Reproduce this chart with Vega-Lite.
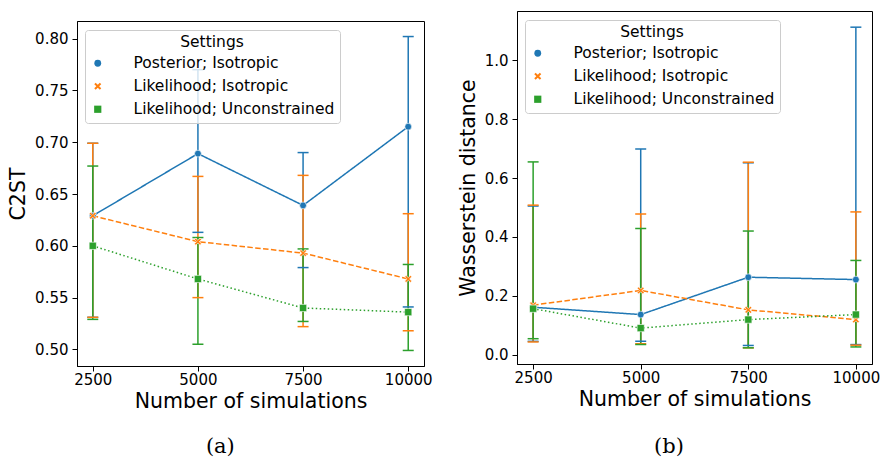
{
  "$schema": "https://vega.github.io/schema/vega-lite/v6.json",
  "background": "white",
  "padding": {"left": 8, "top": 10, "right": 5, "bottom": 0},
  "datasets": {
    "c2st": [
      {"n": 2500, "setting": "Posterior; Isotropic", "value": 0.629, "lo": 0.531, "hi": 0.699},
      {"n": 5000, "setting": "Posterior; Isotropic", "value": 0.689, "lo": 0.613, "hi": 0.770},
      {"n": 7500, "setting": "Posterior; Isotropic", "value": 0.639, "lo": 0.579, "hi": 0.690},
      {"n": 10000, "setting": "Posterior; Isotropic", "value": 0.715, "lo": 0.541, "hi": 0.802},
      {"n": 2500, "setting": "Likelihood; Isotropic", "value": 0.629, "lo": 0.531, "hi": 0.699},
      {"n": 5000, "setting": "Likelihood; Isotropic", "value": 0.604, "lo": 0.550, "hi": 0.667},
      {"n": 7500, "setting": "Likelihood; Isotropic", "value": 0.593, "lo": 0.522, "hi": 0.668},
      {"n": 10000, "setting": "Likelihood; Isotropic", "value": 0.568, "lo": 0.518, "hi": 0.631},
      {"n": 2500, "setting": "Likelihood; Unconstrained", "value": 0.600, "lo": 0.529, "hi": 0.677},
      {"n": 5000, "setting": "Likelihood; Unconstrained", "value": 0.568, "lo": 0.505, "hi": 0.608},
      {"n": 7500, "setting": "Likelihood; Unconstrained", "value": 0.540, "lo": 0.527, "hi": 0.597},
      {"n": 10000, "setting": "Likelihood; Unconstrained", "value": 0.536, "lo": 0.499, "hi": 0.582}
    ],
    "wass": [
      {"n": 2500, "setting": "Posterior; Isotropic", "value": 0.161, "lo": 0.045, "hi": 0.505},
      {"n": 5000, "setting": "Posterior; Isotropic", "value": 0.136, "lo": 0.045, "hi": 0.699},
      {"n": 7500, "setting": "Posterior; Isotropic", "value": 0.263, "lo": 0.031, "hi": 0.652},
      {"n": 10000, "setting": "Posterior; Isotropic", "value": 0.255, "lo": 0.034, "hi": 1.113},
      {"n": 2500, "setting": "Likelihood; Isotropic", "value": 0.168, "lo": 0.043, "hi": 0.508},
      {"n": 5000, "setting": "Likelihood; Isotropic", "value": 0.218, "lo": 0.037, "hi": 0.478},
      {"n": 7500, "setting": "Likelihood; Isotropic", "value": 0.152, "lo": 0.023, "hi": 0.654},
      {"n": 10000, "setting": "Likelihood; Isotropic", "value": 0.119, "lo": 0.032, "hi": 0.485},
      {"n": 2500, "setting": "Likelihood; Unconstrained", "value": 0.156, "lo": 0.054, "hi": 0.655},
      {"n": 5000, "setting": "Likelihood; Unconstrained", "value": 0.090, "lo": 0.034, "hi": 0.429},
      {"n": 7500, "setting": "Likelihood; Unconstrained", "value": 0.119, "lo": 0.023, "hi": 0.420},
      {"n": 10000, "setting": "Likelihood; Unconstrained", "value": 0.136, "lo": 0.026, "hi": 0.320}
    ]
  },
  "spacing": 24,
  "resolve": {
    "scale": {"color": "independent", "shape": "independent", "strokeDash": "independent", "size": "independent"},
    "legend": {"color": "independent"}
  },
  "hconcat": [
    {
      "spacing": 8,
      "resolve": {
        "scale": {"color": "independent", "shape": "independent", "strokeDash": "independent", "size": "independent"},
        "legend": {"color": "independent"}
      },
      "vconcat": [
        {"width": 347, "height": 1, "data": {"values": []}, "mark": {"type": "point"}, "view": {"stroke": null}},
        {
          "width": 347,
          "height": 345,
          "title": {"text": "(a)", "orient": "bottom", "frame": "bounds", "anchor": "middle", "font": "DejaVu Serif", "fontSize": 21, "fontWeight": "normal", "color": "black", "offset": 24},
          "data": {"name": "c2st"},
          "encoding": {
            "x": {"field": "n", "type": "quantitative", "scale": {"domain": [2125, 10375], "nice": false, "zero": false}, "axis": {"values": [2500, 5000, 7500, 10000], "format": "d", "title": "Number of simulations"}},
            "color": {
              "field": "setting", "type": "nominal",
              "scale": {"domain": ["Posterior; Isotropic", "Likelihood; Isotropic", "Likelihood; Unconstrained"], "range": ["#1f77b4", "#ff7f0e", "#2ca02c"]},
              "legend": {"title": "Settings", "orient": "none", "legendX": 8, "legendY": 9}
            }
          },
          "layer": [
            {"mark": {"type": "rule", "strokeWidth": 1.5}, "encoding": {"y": {"field": "lo", "type": "quantitative", "scale": {"domain": [0.484, 0.817], "nice": false, "zero": false}, "axis": {"values": [0.5, 0.55, 0.6, 0.65, 0.7, 0.75, 0.8], "format": ".2f", "title": "C2ST"}}, "y2": {"field": "hi"}}},
            {"mark": {"type": "tick", "orient": "horizontal", "size": 11, "thickness": 1.5, "opacity": 1}, "encoding": {"y": {"field": "lo", "type": "quantitative", "scale": {"domain": [0.484, 0.817], "nice": false, "zero": false}}}},
            {"mark": {"type": "tick", "orient": "horizontal", "size": 11, "thickness": 1.5, "opacity": 1}, "encoding": {"y": {"field": "hi", "type": "quantitative", "scale": {"domain": [0.484, 0.817], "nice": false, "zero": false}}}},
            {"mark": {"type": "line", "strokeWidth": 1.5}, "encoding": {"y": {"field": "value", "type": "quantitative", "scale": {"domain": [0.484, 0.817], "nice": false, "zero": false}}, "strokeDash": {"field": "setting", "type": "nominal", "scale": {"domain": ["Posterior; Isotropic", "Likelihood; Isotropic", "Likelihood; Unconstrained"], "range": [[1, 0], [5.5, 2.4], [1.5, 2.5]]}, "legend": null}}},
            {"mark": {"type": "point", "filled": true, "opacity": 1, "stroke": "white", "strokeWidth": 0.6}, "encoding": {"y": {"field": "value", "type": "quantitative", "scale": {"domain": [0.484, 0.817], "nice": false, "zero": false}}, "shape": {"field": "setting", "type": "nominal", "scale": {"domain": ["Posterior; Isotropic", "Likelihood; Isotropic", "Likelihood; Unconstrained"], "range": ["circle", "M-1,-0.6L-0.6,-1L0,-0.4L0.6,-1L1,-0.6L0.4,0L1,0.6L0.6,1L0,0.4L-0.6,1L-1,0.6L-0.4,0Z", "square"]}, "legend": null}, "size": {"field": "setting", "type": "nominal", "scale": {"domain": ["Posterior; Isotropic", "Likelihood; Isotropic", "Likelihood; Unconstrained"], "range": [46, 52, 28]}, "legend": null}}}
          ]
        }
      ]
    },
    {
      "width": 355,
      "height": 353,
      "title": {"text": "(b)", "orient": "bottom", "frame": "bounds", "anchor": "middle", "font": "DejaVu Serif", "fontSize": 21, "fontWeight": "normal", "color": "black", "offset": 26},
      "data": {"name": "wass"},
      "encoding": {
        "x": {"field": "n", "type": "quantitative", "scale": {"domain": [2125, 10375], "nice": false, "zero": false}, "axis": {"values": [2500, 5000, 7500, 10000], "format": "d", "title": "Number of simulations"}},
        "color": {
          "field": "setting", "type": "nominal",
          "scale": {"domain": ["Posterior; Isotropic", "Likelihood; Isotropic", "Likelihood; Unconstrained"], "range": ["#1f77b4", "#ff7f0e", "#2ca02c"]},
          "legend": {"title": "Settings", "orient": "none", "legendX": 8, "legendY": 9}
        }
      },
      "layer": [
        {"mark": {"type": "rule", "strokeWidth": 1.5}, "encoding": {"y": {"field": "lo", "type": "quantitative", "scale": {"domain": [-0.032, 1.168], "nice": false, "zero": false}, "axis": {"values": [0, 0.2, 0.4, 0.6, 0.8, 1.0], "format": ".1f", "title": "Wasserstein distance"}}, "y2": {"field": "hi"}}},
        {"mark": {"type": "tick", "orient": "horizontal", "size": 11, "thickness": 1.5, "opacity": 1}, "encoding": {"y": {"field": "lo", "type": "quantitative", "scale": {"domain": [-0.032, 1.168], "nice": false, "zero": false}}}},
        {"mark": {"type": "tick", "orient": "horizontal", "size": 11, "thickness": 1.5, "opacity": 1}, "encoding": {"y": {"field": "hi", "type": "quantitative", "scale": {"domain": [-0.032, 1.168], "nice": false, "zero": false}}}},
        {"mark": {"type": "line", "strokeWidth": 1.5}, "encoding": {"y": {"field": "value", "type": "quantitative", "scale": {"domain": [-0.032, 1.168], "nice": false, "zero": false}}, "strokeDash": {"field": "setting", "type": "nominal", "scale": {"domain": ["Posterior; Isotropic", "Likelihood; Isotropic", "Likelihood; Unconstrained"], "range": [[1, 0], [5.5, 2.4], [1.5, 2.5]]}, "legend": null}}},
        {"mark": {"type": "point", "filled": true, "opacity": 1, "stroke": "white", "strokeWidth": 0.6}, "encoding": {"y": {"field": "value", "type": "quantitative", "scale": {"domain": [-0.032, 1.168], "nice": false, "zero": false}}, "shape": {"field": "setting", "type": "nominal", "scale": {"domain": ["Posterior; Isotropic", "Likelihood; Isotropic", "Likelihood; Unconstrained"], "range": ["circle", "M-1,-0.6L-0.6,-1L0,-0.4L0.6,-1L1,-0.6L0.4,0L1,0.6L0.6,1L0,0.4L-0.6,1L-1,0.6L-0.4,0Z", "square"]}, "legend": null}, "size": {"field": "setting", "type": "nominal", "scale": {"domain": ["Posterior; Isotropic", "Likelihood; Isotropic", "Likelihood; Unconstrained"], "range": [46, 52, 28]}, "legend": null}}}
      ]
    }
  ],
  "config": {
    "font": "DejaVu Sans",
    "view": {"stroke": "black", "strokeWidth": 1},
    "axis": {"grid": false, "labelFont": "DejaVu Sans", "titleFont": "DejaVu Sans", "labelFontSize": 15, "titleFontSize": 20.5, "titleFontWeight": "normal", "labelColor": "black", "titleColor": "black", "domainColor": "black", "tickColor": "black", "tickSize": 5, "tickWidth": 1, "domainWidth": 1, "labelFlush": false, "labelOverlap": false},
    "axisX": {"labelPadding": 1, "titlePadding": 4},
    "axisY": {"labelPadding": 4, "titlePadding": 6},
    "legend": {"titleFont": "DejaVu Sans", "labelFont": "DejaVu Sans", "titleFontSize": 15.5, "titleFontWeight": "normal", "titleColor": "black", "titleAnchor": "middle", "titlePadding": 5, "labelFontSize": 15.5, "labelColor": "black", "labelOffset": 28, "labelLimit": 400, "symbolStrokeWidth": 0, "rowPadding": 6, "padding": 5, "strokeColor": "#cccccc", "fillColor": "rgba(255,255,255,0.8)", "cornerRadius": 3}
  }
}
